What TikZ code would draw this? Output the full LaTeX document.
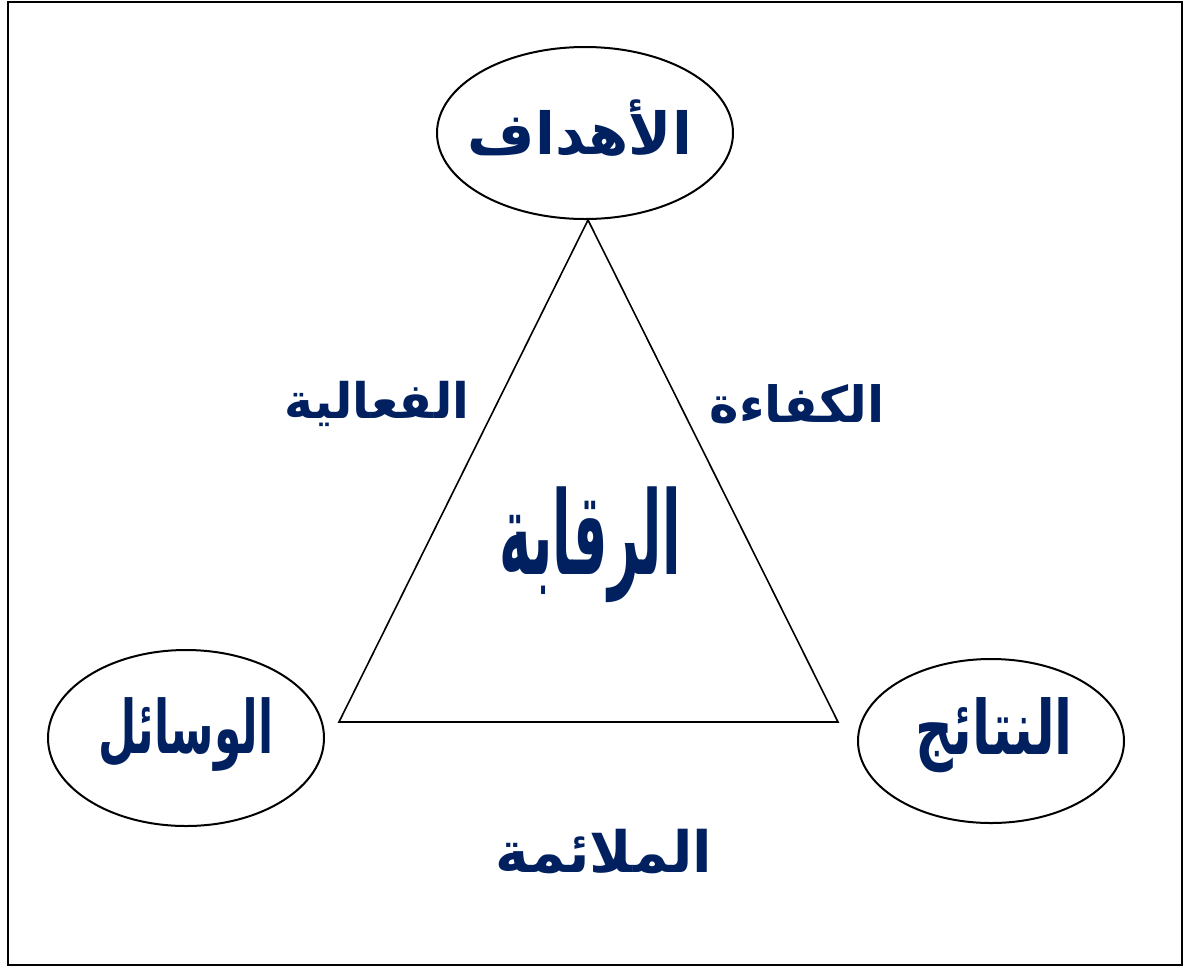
\documentclass[tikz,border=0pt]{standalone}
\usepackage{fontspec}
\usetikzlibrary{shapes.geometric}
\TeXXeTstate=1
\newfontfamily\arabicfont[Script=Arabic]{DejaVu Sans}
\definecolor{navy}{HTML}{002060}
\tikzset{
  oval/.style={draw, line width=2pt, ellipse, inner sep=0pt},
  lbl/.style={text=navy, font=\arabicfont\bfseries, inner sep=0pt},
  edge/.style={draw, line width=1.6pt, line join=miter},
  frame/.style={draw, line width=2.2pt}
}
\newcommand{\fsz}[1]{\fontsize{#1}{#1}\selectfont}
\begin{document}
\begin{tikzpicture}[x=1pt,y=-1pt]
\useasboundingbox (0,0) rectangle (1183,967);
\draw[frame] (8,2) rectangle (1182,965);
\node[oval, minimum width=296pt, minimum height=172pt] (goals) at (585,133) {};
\node[oval, minimum width=276pt, minimum height=176pt] (means) at (186,738) {};
\node[oval, minimum width=266pt, minimum height=164pt] (results) at (991,741) {};
\coordinate (top) at (588,220);
\coordinate (left) at (339,722);
\coordinate (right) at (838,722);
\draw[edge] (top) -- (right) -- (left) -- cycle;
\node[lbl, font=\arabicfont\bfseries\fsz{58}] (tg) at (580,128) {\beginR الأهداف\endR};
\node[lbl, font=\arabicfont\bfseries\fsz{46}, xscale=0.96, yscale=1.6] (tm) at (186,735) {\beginR الوسائل\endR};
\node[lbl, font=\arabicfont\bfseries\fsz{50}, xscale=1.05, yscale=1.5] (tr) at (994,735) {\beginR النتائج\endR};
\node[lbl, font=\arabicfont\bfseries\fsz{49}] (eff) at (377,404) {\beginR الفعالية\endR};
\node[lbl, font=\arabicfont\bfseries\fsz{50}] (effi) at (797,404) {\beginR الكفاءة\endR};
\node[lbl, font=\arabicfont\bfseries\fsz{57}] (fit) at (604,851) {\beginR الملائمة\endR};
\node[lbl, font=\arabicfont\bfseries\fsz{66}, xscale=0.82, yscale=1.75] (ctrl) at (590,545) {\beginR الرقابة\endR};
\end{tikzpicture}
\end{document}
